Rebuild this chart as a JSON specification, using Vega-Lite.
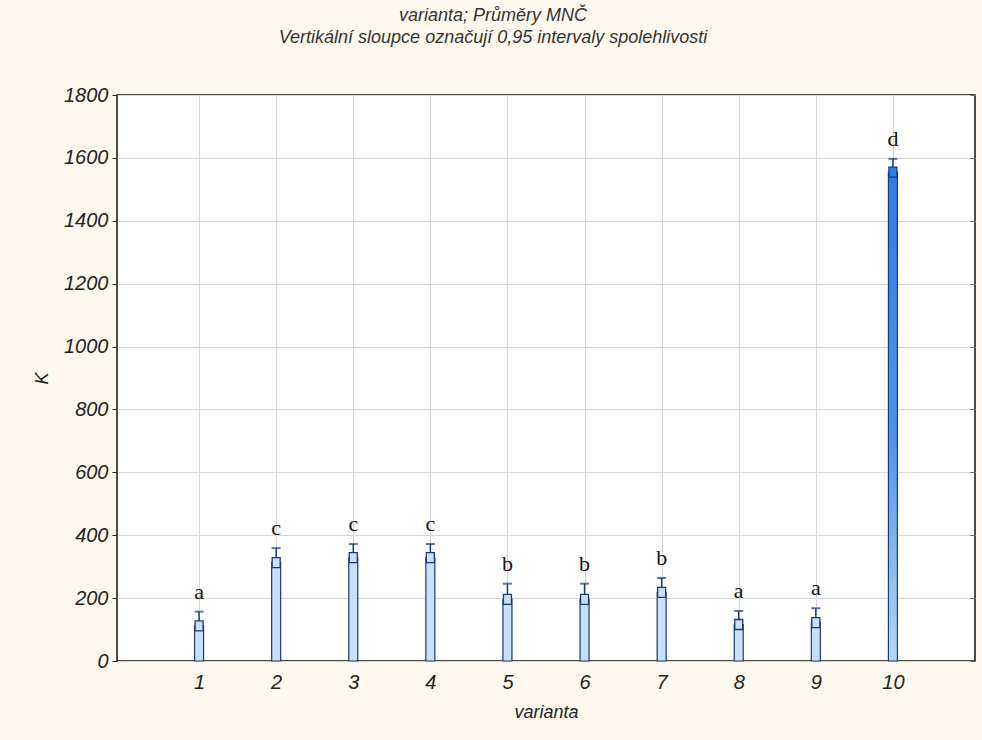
{
  "$schema": "https://vega.github.io/schema/vega-lite/v6.json",
  "autosize": "none",
  "width": 858,
  "height": 566,
  "padding": {"left": 117, "top": 95, "right": 7, "bottom": 79},
  "background": "#fdf9ef",
  "title": {
    "text": ["varianta; Průměry MNČ", "Vertikální sloupce označují 0,95 intervaly spolehlivosti"],
    "font": "Liberation Sans",
    "fontStyle": "italic",
    "fontWeight": "normal",
    "fontSize": 18,
    "lineHeight": 22,
    "color": "#333333",
    "anchor": "middle",
    "dx": -53,
    "offset": 38
  },
  "config": {
    "view": {"fill": "white", "stroke": "#111111", "strokeWidth": 1.5},
    "axis": {
      "labelFont": "Liberation Sans",
      "labelFontStyle": "italic",
      "labelFontSize": 20,
      "labelColor": "#222222",
      "titleFont": "Liberation Sans",
      "titleFontStyle": "italic",
      "titleFontWeight": "normal",
      "titleFontSize": 18,
      "titleColor": "#222222",
      "gridColor": "#d6d6d6",
      "gridWidth": 1,
      "tickColor": "#222222",
      "domain": false
    }
  },
  "data": {
    "values": [
      {"varianta": 1, "mean": 112, "upper": 157, "group": "a"},
      {"varianta": 2, "mean": 313, "upper": 359, "group": "c"},
      {"varianta": 3, "mean": 329, "upper": 372, "group": "c"},
      {"varianta": 4, "mean": 329, "upper": 372, "group": "c"},
      {"varianta": 5, "mean": 196, "upper": 246, "group": "b"},
      {"varianta": 6, "mean": 196, "upper": 246, "group": "b"},
      {"varianta": 7, "mean": 218, "upper": 264, "group": "b"},
      {"varianta": 8, "mean": 116, "upper": 159, "group": "a"},
      {"varianta": 9, "mean": 122, "upper": 168, "group": "a"},
      {"varianta": 10, "mean": 1555, "upper": 1597, "group": "d"}
    ]
  },
  "encoding": {
    "x": {
      "field": "varianta",
      "type": "quantitative",
      "scale": {"domain": [0, 11], "nice": false},
      "axis": {
        "values": [1, 2, 3, 4, 5, 6, 7, 8, 9, 10],
        "format": "d",
        "title": "varianta",
        "tickSize": 0,
        "labelPadding": 11,
        "titlePadding": 11
      }
    }
  },
  "layer": [
    {
      "mark": {"type": "bar", "size": 9, "stroke": "#1d3a78", "strokeWidth": 1.2},
      "encoding": {
        "y": {
          "field": "mean",
          "type": "quantitative",
          "scale": {"domain": [0, 1800], "nice": false},
          "axis": {
            "values": [0, 200, 400, 600, 800, 1000, 1200, 1400, 1600, 1800],
            "format": "d",
            "title": "K",
            "tickSize": 5,
            "labelPadding": 4,
            "titlePadding": 12
          }
        },
        "color": {
          "condition": {
            "test": "datum.varianta === 10",
            "value": {
              "gradient": "linear",
              "x1": 0, "y1": 0, "x2": 0, "y2": 1,
              "stops": [
                {"offset": 0, "color": "#2f7de6"},
                {"offset": 0.55, "color": "#4f94ea"},
                {"offset": 1, "color": "#b8d7f6"}
              ]
            }
          },
          "value": "#c9e0f8"
        }
      }
    },
    {
      "mark": {"type": "rule", "color": "#1d3a78", "strokeWidth": 1.5},
      "encoding": {
        "y": {"field": "mean", "type": "quantitative", "axis": null},
        "y2": {"field": "upper"}
      }
    },
    {
      "mark": {"type": "tick", "orient": "horizontal", "size": 9, "thickness": 2, "color": "#1d3a78"},
      "encoding": {
        "y": {
          "field": "upper",
          "type": "quantitative",
          "axis": {
            "orient": "right",
            "values": [0, 200, 400, 600, 800, 1000, 1200, 1400, 1600, 1800],
            "labels": false,
            "ticks": true,
            "grid": false,
            "title": null,
            "offset": -5,
            "tickSize": 5,
            "tickWidth": 1,
            "tickColor": "#666666"
          }
        }
      }
    },
    {
      "mark": {"type": "point", "shape": "M-0.8,-1H0.8V1H-0.8Z", "size": 100, "filled": true, "stroke": "#1d3a78", "strokeWidth": 1.3, "opacity": 1},
      "encoding": {
        "y": {"field": "mean", "type": "quantitative", "axis": null},
        "fill": {
          "condition": {"test": "datum.varianta === 10", "value": "#2f7de6"},
          "value": "#c9e0f8"
        }
      }
    },
    {
      "mark": {"type": "text", "font": "Liberation Serif", "fontSize": 22, "color": "#111111", "dy": -20, "baseline": "middle"},
      "encoding": {
        "y": {"field": "upper", "type": "quantitative", "axis": null},
        "text": {"field": "group"}
      }
    }
  ],
  "resolve": {"axis": {"y": "independent"}}
}
